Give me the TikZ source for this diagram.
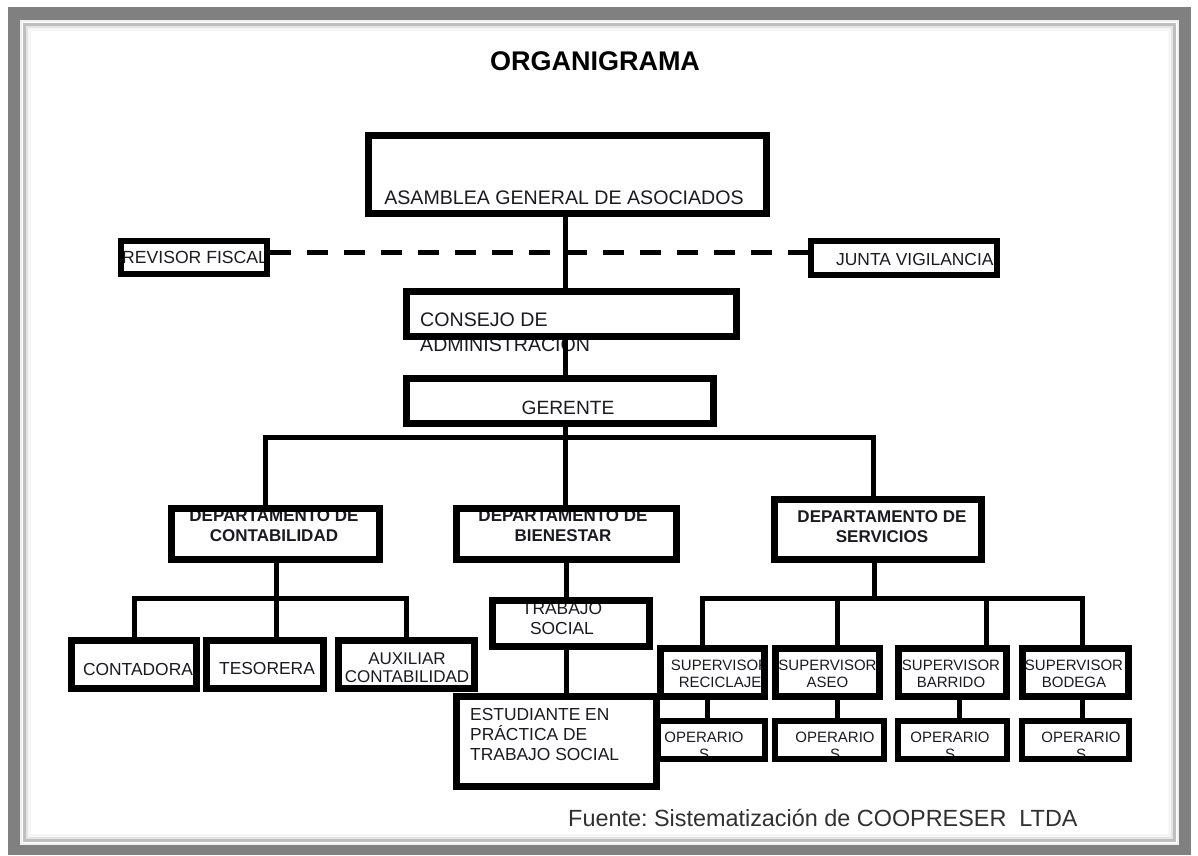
\documentclass[tikz,border=0pt]{standalone}
\usepackage{fontspec}
\setmainfont{Liberation Sans}
\frenchspacing
\definecolor{framegray}{HTML}{808080}
\definecolor{txtcol}{HTML}{1A1A22}
\definecolor{foot}{HTML}{303030}
\begin{document}
\begin{tikzpicture}[x=1pt,y=-1pt,
  box/.style={draw=black, line width=7pt, outer sep=3.5pt, inner sep=0pt},
  thinbox/.style={draw=black, line width=6pt, outer sep=3pt, inner sep=0pt},
  conn/.style={draw=black, line width=5pt},
  dashconn/.style={draw=black, line width=5pt, dash pattern=on 21pt off 16pt},
  txt/.style={inner sep=0pt, text=txtcol},
  fmain/.style={font=\fontsize{19.6}{22}\selectfont},
  fmid/.style={font=\fontsize{17.4}{20}\selectfont},
  fdept/.style={font=\bfseries\fontsize{17}{19.5}\selectfont},
  fsup/.style={font=\fontsize{15}{17}\selectfont}]
\useasboundingbox (0,0) rectangle (1198,855);
% frame
\fill[framegray] (8,7) rectangle (1191,855);
\fill[white] (20,20) rectangle (1179,845);
\draw[gray!12, line width=2pt] (21,21) rectangle (1178,844);
\draw[gray!50, line width=2.5pt] (24.5,24.5) rectangle (1174.5,840.5);
\draw[gray!22, line width=2.5pt] (27,27) rectangle (1172,838);
\draw[gray!7, line width=2.5pt] (29.5,29.5) rectangle (1169.5,835.5);

% title
\node[txt, text=black, font=\bfseries\fontsize{27}{30}\selectfont] (title) at (595,61) {ORGANIGRAMA};

% texts
\node[txt, fmain] (asamT) at (564,198) {ASAMBLEA GENERAL DE ASOCIADOS};
\node[txt, font=\fontsize{17.6}{20}\selectfont, anchor=west] (revT) at (122,257.5) {REVISOR FISCAL};
\node[txt, font=\fontsize{17.4}{20}\selectfont, anchor=west] (juntaT) at (836,260) {JUNTA VIGILANCIA};
\node[txt, fmain, anchor=west] (consT) at (420,320) {CONSEJO DE};
\begin{scope}
  \clip (400,340.5) rectangle (760,370);
  \node[txt, fmain, anchor=base west] (consT2) at (420,351) {ADMINISTRACIÓN};
\end{scope}
\node[txt, font=\fontsize{19.2}{22}\selectfont] (gerT) at (568,408) {GERENTE};
\node[txt, fdept, align=center] (contabT) at (274,525.5) {DEPARTAMENTO DE\\CONTABILIDAD};
\node[txt, fdept, align=center] (bienT) at (563,525.5) {DEPARTAMENTO DE\\BIENESTAR};
\node[txt, fdept, align=center] (servT) at (882,526.5) {DEPARTAMENTO DE\\SERVICIOS};
\node[txt, fmid] (contaT) at (138,669) {CONTADORA};
\node[txt, fmid] (tesoT) at (267,668) {TESORERA};
\node[txt, fmid, align=center, font=\fontsize{17}{18}\selectfont] (auxT) at (407,667.5) {AUXILIAR\\CONTABILIDAD};
\node[txt, fmid, align=center] (trabT) at (562,618.5) {TRABAJO\\SOCIAL};
\node[txt, fmid, align=left, anchor=west] (estT) at (470,734) {ESTUDIANTE EN\\PRÁCTICA DE\\TRABAJO SOCIAL};
\node[txt, fsup, align=center] (recT) at (720,673.5) {SUPERVISOR\\RECICLAJE};
\node[txt, fsup, align=center] (aseoT) at (827.5,673.5) {SUPERVISOR\\ASEO};
\node[txt, fsup, align=center] (barT) at (951,673.5) {SUPERVISOR\\BARRIDO};
\node[txt, fsup, align=center] (bodT) at (1074,673.5) {SUPERVISOR\\BODEGA};
\begin{scope}
  \clip (655,718) rectangle (768,762);
  \node[txt, fsup, align=center] (op1T) at (704,746) {OPERARIO\\S};
\end{scope}
\begin{scope}
  \clip (772,718) rectangle (887,762);
  \node[txt, fsup, align=center] (op2T) at (835,746) {OPERARIO\\S};
\end{scope}
\begin{scope}
  \clip (895,718) rectangle (1010,762);
  \node[txt, fsup, align=center] (op3T) at (950,746) {OPERARIO\\S};
\end{scope}
\begin{scope}
  \clip (1019,718) rectangle (1132,762);
  \node[txt, fsup, align=center] (op4T) at (1081,746) {OPERARIO\\S};
\end{scope}
\node[txt, text=foot, anchor=west, font=\fontsize{23.4}{26}\selectfont] (fuente) at (568,818) {Fuente: Sistematización de COOPRESER~~LTDA};

% boxes
\node[box, minimum width=398pt, minimum height=78pt] (asam) at (567.5,174.5) {};
\node[thinbox, minimum width=146pt, minimum height=33pt] (rev) at (194,257.5) {};
\node[thinbox, minimum width=186pt, minimum height=34pt] (junta) at (904,258) {};
\node[box, minimum width=330pt, minimum height=45pt] (cons) at (571.5,314) {};
\node[box, minimum width=307pt, minimum height=45pt] (ger) at (560,401) {};
\node[box, minimum width=208pt, minimum height=51pt] (contab) at (275.5,534) {};
\node[box, minimum width=220pt, minimum height=51pt] (bien) at (566.5,534) {};
\node[box, minimum width=207pt, minimum height=60pt] (serv) at (878,529.5) {};
\node[box, minimum width=125pt, minimum height=48pt] (conta) at (134,664.5) {};
\node[box, minimum width=117pt, minimum height=48pt] (teso) at (265,664.5) {};
\node[box, minimum width=136pt, minimum height=48pt] (aux) at (406.5,664.5) {};
\node[box, minimum width=157pt, minimum height=46pt] (trab) at (571,623.5) {};
\node[box, minimum width=200pt, minimum height=90pt] (est) at (556.5,741.5) {};
\node[box, minimum width=104pt, minimum height=48pt] (recic) at (712.5,672.5) {};
\node[box, minimum width=104pt, minimum height=48pt] (aseo) at (827.5,672.5) {};
\node[box, minimum width=108pt, minimum height=48pt] (barr) at (952.5,672.5) {};
\node[box, minimum width=106pt, minimum height=48pt] (bod) at (1075.5,672.5) {};
\node[thinbox, minimum width=107pt, minimum height=38pt] (op1) at (711.5,740) {};
\node[thinbox, minimum width=109pt, minimum height=38pt] (op2) at (829.5,740) {};
\node[thinbox, minimum width=109pt, minimum height=38pt] (op3) at (952.5,740) {};
\node[thinbox, minimum width=107pt, minimum height=38pt] (op4) at (1075.5,740) {};

% connectors
\draw[dashconn] (rev.east |- 0,252) -- (junta.west |- 0,252);
\draw[conn] (asam.south -| 565,0) -- (cons.north -| 565,0);
\draw[conn] (cons.south -| 565,0) -- (ger.north -| 565,0);
\coordinate (b1) at (565,437);
\draw[conn] (ger.south -| b1) -- (b1);
\draw[conn] (contab.north -| 265,0) |- (b1) -| (serv.north -| 873,0);
\draw[conn] (b1) -- (bien.north -| b1);

\coordinate (b2) at (276,598);
\draw[conn] (contab.south -| b2) -- (teso.north -| b2);
\draw[conn] (conta.north) |- (b2) -| (aux.north);

\draw[conn] (bien.south -| 566,0) -- (trab.north -| 566,0);
\draw[conn] (trab.south -| 566,0) -- (est.north -| 566,0);

\coordinate (b3) at (874,598);
\coordinate (b3a) at (837,598);
\coordinate (b3b) at (986,598);
\draw[conn] (serv.south -| b3) -- (b3);
\draw[conn] (recic.north -| 702,0) |- (b3) -| (bod.north -| 1082,0);
\draw[conn] (aseo.north -| b3a) -- (b3a);
\draw[conn] (barr.north -| b3b) -- (b3b);

\draw[conn] (recic.south -| 707,0) -- (op1.north -| 707,0);
\draw[conn] (aseo.south -| 837,0) -- (op2.north -| 837,0);
\draw[conn] (barr.south -| 959,0) -- (op3.north -| 959,0);
\draw[conn] (bod.south -| 1082,0) -- (op4.north -| 1082,0);
\end{tikzpicture}
\end{document}
